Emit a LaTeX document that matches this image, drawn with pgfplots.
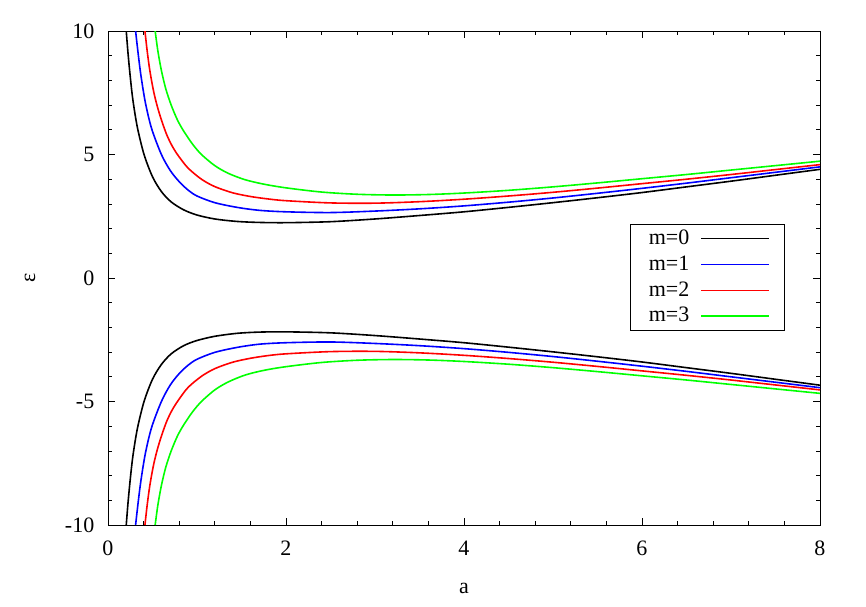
\documentclass[border=0pt]{standalone}
\usepackage{fontspec}
\setmainfont{Liberation Serif}
\usepackage{pgfplots}
\pgfplotsset{compat=1.18}

\pgfplotstableread{
a e
0.205 10.0
0.225 9.1
0.25 8.15
0.28 7.2
0.33 6.1
0.405 5.0
0.5 4.1
0.6 3.5
0.71 3.08
0.85 2.76
1.0 2.55
1.2 2.39
1.45 2.29
1.7 2.25
2.0 2.24
2.5 2.28
3.0 2.39
3.5 2.53
4.0 2.68
4.5 2.86
5.0 3.05
5.5 3.25
6.0 3.46
6.5 3.69
7.0 3.92
7.5 4.16
8.0 4.40
}\mzeroup
\pgfplotstableread{
a e
0.31 10.0
0.34 9.05
0.37 8.2
0.42 7.1
0.49 6.05
0.6 5.0
0.7 4.35
0.8 3.9
0.9 3.56
1.0 3.32
1.2 3.05
1.45 2.86
1.7 2.74
2.0 2.68
2.5 2.65
3.0 2.71
3.5 2.80
4.0 2.92
4.5 3.07
5.0 3.24
5.5 3.43
6.0 3.63
6.5 3.84
7.0 4.06
7.5 4.28
8.0 4.50
}\moneup
\pgfplotstableread{
a e
0.415 10.0
0.44 9.2
0.47 8.4
0.51 7.6
0.55 7.0
0.6 6.4
0.66 5.8
0.72 5.35
0.79 4.95
0.9 4.45
1.05 4.0
1.2 3.7
1.4 3.45
1.6 3.3
1.8 3.2
2.0 3.13
2.5 3.04
3.0 3.03
3.5 3.09
4.0 3.19
4.5 3.32
5.0 3.47
5.5 3.64
6.0 3.82
6.5 4.00
7.0 4.19
7.5 4.39
8.0 4.59
}\mtwoup
\pgfplotstableread{
a e
0.53 10.0
0.56 9.2
0.6 8.4
0.65 7.65
0.71 7.0
0.78 6.4
0.85 5.95
0.95 5.42
1.05 5.0
1.2 4.55
1.35 4.24
1.54 3.98
1.75 3.8
2.0 3.65
2.4 3.48
2.8 3.39
3.2 3.36
3.6 3.38
4.0 3.44
4.5 3.55
5.0 3.69
5.5 3.85
6.0 4.02
6.5 4.19
7.0 4.37
7.5 4.55
8.0 4.73
}\mthreeup
\pgfplotstableread{
a e
0.205 -10.0
0.225 -9.1
0.25 -8.15
0.28 -7.2
0.33 -6.1
0.405 -5.0
0.5 -4.1
0.6 -3.5
0.71 -3.07
0.85 -2.74
1.0 -2.53
1.2 -2.36
1.45 -2.24
1.7 -2.19
2.0 -2.18
2.5 -2.22
3.0 -2.33
3.5 -2.47
4.0 -2.62
4.5 -2.80
5.0 -2.99
5.5 -3.19
6.0 -3.40
6.5 -3.63
7.0 -3.86
7.5 -4.10
8.0 -4.34
}\mzerodn
\pgfplotstableread{
a e
0.31 -10.0
0.34 -9.05
0.37 -8.2
0.42 -7.1
0.49 -6.05
0.6 -5.0
0.7 -4.33
0.8 -3.87
0.9 -3.53
1.0 -3.29
1.2 -3.01
1.45 -2.81
1.7 -2.68
2.0 -2.62
2.5 -2.59
3.0 -2.65
3.5 -2.74
4.0 -2.86
4.5 -3.01
5.0 -3.18
5.5 -3.37
6.0 -3.57
6.5 -3.78
7.0 -4.00
7.5 -4.22
8.0 -4.44
}\monedn
\pgfplotstableread{
a e
0.415 -10.0
0.44 -9.2
0.47 -8.4
0.51 -7.6
0.55 -7.0
0.6 -6.4
0.66 -5.8
0.72 -5.35
0.79 -4.95
0.9 -4.43
1.05 -3.98
1.2 -3.67
1.4 -3.41
1.6 -3.25
1.8 -3.14
2.0 -3.07
2.5 -2.98
3.0 -2.97
3.5 -3.03
4.0 -3.13
4.5 -3.26
5.0 -3.41
5.5 -3.58
6.0 -3.76
6.5 -3.94
7.0 -4.13
7.5 -4.33
8.0 -4.53
}\mtwodn
\pgfplotstableread{
a e
0.53 -10.0
0.56 -9.2
0.6 -8.4
0.65 -7.65
0.71 -7.0
0.78 -6.4
0.85 -5.95
0.95 -5.42
1.05 -5.0
1.2 -4.53
1.35 -4.21
1.54 -3.93
1.75 -3.74
2.0 -3.59
2.4 -3.42
2.8 -3.33
3.2 -3.30
3.6 -3.32
4.0 -3.38
4.5 -3.49
5.0 -3.63
5.5 -3.79
6.0 -3.96
6.5 -4.13
7.0 -4.31
7.5 -4.49
8.0 -4.67
}\mthreedn

\begin{document}
\fontsize{11}{12.5}\selectfont
\begin{tikzpicture}
\useasboundingbox (-54pt,-40.5pt) rectangle (379pt,262.5pt);
\begin{axis}[
  at={(0,0)}, anchor=south west,
  scale only axis,
  width=356pt, height=247pt,
  xmin=0, xmax=8, ymin=-10, ymax=10,
  xtick={0,2,...,8}, ytick={-10,-5,0,5,10},
  minor x tick num=4, minor y tick num=4,
  tick align=inside,
  major tick length=3.5pt, minor tick length=2pt,
  tick style={black, line width=0.4pt},
  axis line style={line width=0.5pt},
  /pgf/number format/assume math mode=true,
  ticklabel style={font=\fontsize{11}{12.5}\selectfont},
  xticklabel style={yshift=-4pt},
  yticklabel style={xshift=-3pt},
  xlabel={a}, ylabel={ε},
  label style={font=\fontsize{11}{12.5}\selectfont},
  xlabel style={at={(axis description cs:0.5,-0.1275)}, anchor=center},
  ylabel style={at={(axis description cs:-0.1096,0.5)}, anchor=center},
  legend plot pos=right,
  legend cell align=left,
  legend style={at={(0.95,0.6087)}, anchor=north east, draw=black,
    inner xsep=7pt, inner ysep=0.5pt, row sep=0pt,
    font=\fontsize{11}{12.5}\selectfont},
  legend image code/.code={\draw[#1] (0pt,0pt) -- (34pt,0pt);},
]
\addlegendimage{black, line width=0.8pt}
\addlegendentry{m=0\hspace*{3.5pt}}
\addlegendimage{blue, line width=0.8pt}
\addlegendentry{m=1\hspace*{3.5pt}}
\addlegendimage{red, line width=0.8pt}
\addlegendentry{m=2\hspace*{3.5pt}}
\addlegendimage{green, line width=0.8pt}
\addlegendentry{m=3\hspace*{3.5pt}}
\addplot[draw=black, line width=0.8pt, smooth, tension=0.5, forget plot] table[x=a,y=e] {\mzeroup};
\addplot[draw=blue, line width=0.8pt, smooth, tension=0.5, forget plot] table[x=a,y=e] {\moneup};
\addplot[draw=red, line width=0.8pt, smooth, tension=0.5, forget plot] table[x=a,y=e] {\mtwoup};
\addplot[draw=green, line width=0.8pt, smooth, tension=0.5, forget plot] table[x=a,y=e] {\mthreeup};
\addplot[draw=black, line width=0.8pt, smooth, tension=0.5, forget plot] table[x=a,y=e] {\mzerodn};
\addplot[draw=blue, line width=0.8pt, smooth, tension=0.5, forget plot] table[x=a,y=e] {\monedn};
\addplot[draw=red, line width=0.8pt, smooth, tension=0.5, forget plot] table[x=a,y=e] {\mtwodn};
\addplot[draw=green, line width=0.8pt, smooth, tension=0.5, forget plot] table[x=a,y=e] {\mthreedn};
\end{axis}
\end{tikzpicture}
\end{document}
